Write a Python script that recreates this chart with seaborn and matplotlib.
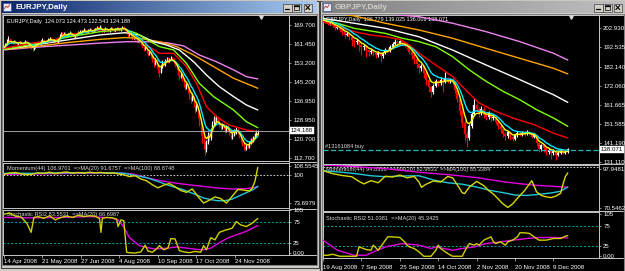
import numpy as np
import pandas as pd
import matplotlib
matplotlib.use("Agg")
import matplotlib.pyplot as plt
import seaborn as sns
from matplotlib.patches import Rectangle
from matplotlib.colors import LinearSegmentedColormap
from matplotlib.transforms import Affine2D

# ======================= DATA =======================
# ---- EURJPY daily (left window) ----
eur_title = "EURJPY,Daily"
eur_header = "EURJPY,Daily  124.073 124.473 122.543 124.188"
eur_first_open = 159.6
eur_close = [160.2,161.6,163.0,163.8,163.2,162.6,162.0,162.8,162.1,161.4,
161.9,162.5,161.8,161.2,162.0,162.7,162.2,161.5,160.6,160.0,
159.2,160.3,161.2,161.9,162.5,162.0,162.8,163.4,162.9,162.2,
162.9,163.6,164.2,163.5,162.8,163.3,162.6,162.0,163.8,165.5,
166.2,165.6,166.4,165.8,165.1,166.0,166.6,165.9,165.3,164.5,
165.2,166.0,166.7,167.2,166.5,167.3,167.8,167.1,166.6,167.5,
168.0,167.4,166.8,167.6,168.2,168.7,168.0,169.0,167.9,167.0,
167.6,168.3,167.7,167.1,167.8,168.4,167.9,167.3,167.9,168.5,
168.1,167.5,168.2,168.8,168.3,167.6,166.4,165.2,165.8,164.6,
163.9,164.5,163.5,162.8,163.2,162.3,161.6,160.4,159.2,160.1,
158.4,157.2,158.0,156.3,154.5,153.0,154.6,152.2,150.3,149.5,
151.8,153.9,152.6,154.4,155.3,154.0,154.8,155.6,154.9,153.8,
152.5,151.0,149.2,147.5,148.4,146.3,144.2,142.8,143.9,141.5,
139.3,137.6,138.8,135.9,133.6,134.8,131.2,128.5,124.6,121.3,
118.9,116.2,119.4,122.8,121.0,124.7,127.3,129.6,128.2,130.1,
128.6,126.9,125.3,127.0,125.8,124.1,126.2,124.6,123.0,121.4,
122.5,124.3,123.4,125.1,124.0,121.8,120.3,118.4,117.2,116.5,
118.0,117.4,119.0,120.6,119.8,121.5,122.9,124.073,124.188]
eur_high = [160.6,161.9,163.5,164.8,164.1,163.5,162.9,163.2,163.1,162.4,
162.3,162.9,162.7,162.1,162.3,163.1,163.0,162.5,161.8,160.9,
160.3,160.7,161.5,162.3,162.9,162.8,163.2,163.9,163.7,163.2,
163.3,164.0,164.7,164.5,163.8,163.7,163.6,162.9,164.1,165.9,
166.8,166.6,166.9,166.8,166.1,166.4,167.1,166.9,166.2,165.6,
165.6,166.4,167.1,167.7,167.5,167.7,168.3,168.1,167.4,167.9,
168.5,168.3,167.7,168.0,168.6,169.2,169.0,169.8,169.3,168.2,
168.0,168.7,168.6,168.0,168.2,168.9,168.8,168.2,168.3,169.0,
168.9,168.4,168.6,169.4,169.1,168.6,167.9,166.7,166.3,166.1,
164.9,165.0,164.8,163.8,163.7,163.5,162.7,161.9,160.7,160.6,
160.4,158.8,158.6,158.3,156.6,154.9,155.3,155.0,152.6,151.0,
152.3,154.5,154.4,155.0,156.0,155.8,155.5,156.4,156.0,155.3,
154.1,152.9,151.4,149.6,149.2,148.8,146.7,144.8,144.7,144.3,
142.0,139.9,139.8,139.3,136.5,135.9,135.3,131.8,129.2,125.4,
122.4,119.8,120.3,123.6,123.5,125.5,128.2,130.6,130.2,131.0,
130.6,129.0,127.4,127.6,127.5,126.2,126.8,126.7,125.0,123.4,
123.1,124.9,124.8,125.8,125.6,124.4,122.3,120.8,118.9,117.7,
118.6,118.7,119.6,121.2,121.0,122.1,123.4,124.6,124.473]
eur_low = [159.3,160.0,161.3,162.7,162.8,162.2,161.6,161.8,161.7,161.0,
161.1,161.6,161.4,160.7,160.9,161.7,161.8,161.1,160.2,159.5,
158.5,158.9,160.0,160.9,161.6,161.6,161.7,162.5,162.5,161.8,
161.9,162.6,163.3,163.1,162.3,162.4,162.2,161.5,161.8,163.5,
165.2,165.1,165.3,165.4,164.6,164.8,165.7,165.5,164.9,163.9,
164.2,164.9,165.7,166.4,166.1,166.2,167.0,166.7,166.1,166.3,
167.2,167.0,166.3,166.5,167.3,167.9,167.6,167.7,167.4,166.4,
166.6,167.3,167.3,166.6,166.8,167.5,167.5,166.8,167.0,167.6,
167.7,167.1,167.2,167.9,167.9,167.1,165.9,164.6,164.8,164.1,
163.3,163.5,163.0,162.2,162.4,161.8,161.0,159.8,158.4,158.8,
157.7,156.4,156.8,155.4,153.6,151.8,152.6,151.0,149.0,147.2,
149.0,151.4,151.9,152.2,154.0,153.5,153.6,154.5,154.3,153.1,
151.8,150.2,148.3,146.5,146.9,145.4,143.1,141.6,142.0,140.4,
138.0,136.2,136.9,134.6,132.0,132.8,129.7,126.4,122.5,119.0,
116.3,113.6,115.0,118.6,119.8,120.4,124.0,126.8,127.4,127.8,
127.9,126.0,124.5,124.8,125.1,123.3,123.7,123.9,122.2,120.6,
120.8,122.1,122.8,123.0,123.4,121.0,119.4,117.5,116.1,115.3,
115.8,116.6,117.0,118.6,119.1,119.4,121.0,122.5,122.543]
eur_bid = 124.188
# slower moving averages (bar index, value)
eur_red_idx = [0,21,32,44,67,85,91,100,109,119,128,135,142,149,158,170,178]
eur_red_val = [159.7,162.1,162.5,165.4,167.55,167.8,164.7,161.1,157.5,157.5,151.8,144.6,134.6,130.3,126.7,124.55,123.8]
eur_green_idx = [0,21,44,67,85,93,100,109,119,128,137,147,161,170,178]
eur_green_val = [159.2,161.5,164.4,166.8,167.8,166.1,163.5,160.4,158.95,153.2,144.6,138.9,133.15,128.1,125.55]
eur_white_idx = [0,21,44,67,85,95,105,114,123,133,142,151,161,170,178]
eur_white_val = [159.2,161.1,163.25,165.4,166.4,165.4,162.5,161.1,158.95,153.9,148.2,143.2,138.9,135.3,133.15]
eur_orange_idx = [0,21,44,67,85,95,109,121,133,147,161,178]
eur_orange_val = [159.2,160.4,162.1,163.5,164.3,164.0,162.5,160.4,156.8,151.8,146.8,142.5]
eur_violet_idx = [0,21,44,67,85,102,114,126,137,149,161,170,178]
eur_violet_val = [159.0,160.1,161.0,161.9,162.5,162.5,162.1,160.7,156.8,153.9,150.4,147.5,146.5]
# Momentum(44) window
eur_mom_label = "Momentum(44) 106.9701  =>MA(20) 91.6757  =>MA(100) 88.8748"
eur_mom_idx = [0,4,8,12,16,20,24,28,32,36,40,44,48,52,56,60,64,68,72,76,80,84,88,92,96,100,
               104,108,112,116,120,124,128,132,136,140,144,148,152,156,160,164,168,172,174,176,178]
eur_mom_val = [100.5,101.8,102.3,101.0,100.2,100.8,102.0,101.5,102.6,101.2,102.2,102.8,101.6,102.3,
               101.7,102.5,102.0,102.4,101.5,102.0,101.0,100.2,98.4,99.3,96.2,94.6,
               90.9,88.0,90.5,92.0,89.0,85.5,83.8,87.0,80.0,73.8,76.5,79.5,78.0,73.8,80.0,86.5,
               86.0,85.0,87.5,94.0,106.97]
eur_mom_ma20_idx = [0,10,20,30,40,50,60,70,80,85,90,100,110,115,120,125,130,135,140,145,150,155,160,165,170,175,178]
eur_mom_ma20_val = [101.5,101.6,101.5,101.8,102.0,102.1,102.2,102.1,101.8,101.5,100.0,97.5,93.0,90.5,
                    88.5,86.5,84.0,81.5,78.5,77.0,76.0,76.0,77.5,80.5,83.5,86.5,89.5]
eur_mom_ma100_idx = [0,20,40,60,80,90,100,110,120,130,140,150,160,170,178]
eur_mom_ma100_val = [100.6,100.9,101.3,101.6,101.7,101.0,97.5,94.6,92.5,90.8,89.3,87.8,86.9,87.3,88.87]
# Stochastic RSI window
eur_st_label = "Stochastic RSI2 83.5531  =>MA(20) 66.6987"
eur_st_idx = [0,4,8,12,16,19,21,24,28,32,36,40,44,48,52,56,60,64,67,68,69,72,76,79,80,82,84,85,86,88,
              92,96,99,101,104,107,109,112,115,117,120,123,126,130,134,138,140,142,145,148,
              151,155,160,163,166,170,174,178]
eur_st_val = [94,96,89,87,72,50,86,88,84,90,80,86,89,86,91,88,90,89,83,50,84,86,85,82,64,80,78,40,2,1,
              0,3,19,5,2,10,18,8,12,35,34,6,3,1,4,2,18,8,37,32,50,55,60,76,68,64,72,83.55]
eur_st_ma_idx = [0,20,40,60,75,80,84,88,95,105,115,121,128,135,140,145,152,158,163,168,172,176,178]
eur_st_ma_val = [86,85,86,88,85,80,63,37,18,10,12,15,12,9,8,12,27,38,44,50,56,63,66.7]
eur_price_ticks = [169.7,161.45,153.2,145.2,136.95,128.95,120.7,112.7]
eur_mom_ticks = [108.5545,100,73.6979]
eur_mom_ticklabels = ["108.5545","100","73.6979"]
eur_date_idx = [0,27,54,81,108,135,162]
eur_date_labels = ["14 Apr 2008","21 May 2008","27 Jun 2008","4 Aug 2008","10 Sep 2008","17 Oct 2008","24 Nov 2008"]

# ---- GBPJPY daily (right window) ----
gbp_title = "GBPJPY,Daily"
gbp_header = "GBPJPY,Daily  136.779 139.025 136.006 138.071"
gbp_first_open = 207.6
gbp_close = [207.0,206.2,205.0,205.6,204.1,202.8,203.3,201.6,200.4,199.2,
199.8,198.0,196.5,195.2,196.0,193.8,192.4,193.1,191.2,189.8,
190.6,189.2,188.5,189.6,187.9,189.5,191.3,190.6,192.8,194.2,
195.3,194.6,195.9,194.8,193.6,192.5,190.1,188.3,186.0,183.7,
181.2,182.4,178.6,175.3,171.2,168.5,172.0,174.6,173.2,175.1,
174.0,175.6,174.3,175.2,173.8,169.5,164.8,158.6,152.3,146.0,
144.2,150.5,156.8,161.5,159.4,157.2,159.8,156.4,155.1,157.3,
154.6,155.5,152.8,150.4,148.7,146.3,145.0,147.2,144.6,143.8,
145.5,146.8,145.9,147.0,146.2,147.4,146.6,144.8,145.9,141.2,
138.5,140.2,138.9,136.4,137.8,135.9,137.2,135.0,136.3,137.6,
136.1,136.779,138.071]
gbp_high = [208.4,207.5,206.6,206.3,206.0,204.6,204.0,203.7,202.1,200.9,
200.6,200.3,198.6,197.0,196.9,196.5,194.4,194.0,193.7,191.8,
191.5,191.1,190.0,190.4,190.1,190.2,192.0,192.2,193.6,195.1,
196.7,196.2,196.6,196.4,195.3,194.1,193.0,190.8,188.9,186.6,
184.3,183.5,183.0,179.2,176.0,172.0,173.0,175.8,175.3,176.4,
175.9,179.3,176.5,176.2,175.9,174.4,170.2,165.6,159.4,153.5,
147.8,151.7,158.0,165.4,163.0,160.6,161.2,160.5,157.6,158.6,
158.0,156.8,156.1,153.5,151.2,149.5,147.2,148.1,147.8,145.5,
146.3,147.6,147.5,148.0,147.7,148.3,148.0,147.1,146.7,146.3,
141.9,141.0,140.8,139.5,138.6,138.4,138.1,137.8,137.2,138.4,
138.2,137.6,139.025]
gbp_low = [206.3,205.4,204.2,204.5,203.2,201.9,202.1,200.5,199.3,197.5,
198.4,196.6,193.0,192.8,194.1,190.5,188.6,191.0,187.4,187.8,
188.9,187.6,186.8,187.5,184.6,187.0,188.9,189.8,190.2,192.3,
193.6,193.9,194.0,193.9,192.8,191.6,189.0,186.5,183.4,181.2,
178.6,179.8,176.3,172.4,168.9,166.0,167.8,171.2,172.1,172.6,
168.6,173.2,173.4,173.5,172.6,168.3,163.2,156.4,149.8,142.6,
139.3,143.0,149.6,155.9,158.1,155.3,156.4,155.0,153.6,154.4,
153.2,153.5,151.4,148.9,146.8,144.9,143.3,144.2,143.0,142.6,
143.1,144.9,145.0,145.3,145.4,145.6,145.8,143.9,144.0,140.1,
136.4,137.2,136.8,134.8,135.6,133.0,135.1,132.3,134.3,135.7,
135.4,135.5,136.006]
gbp_bid = 138.071
gbp_order_price = 137.70
gbp_order_label = "#13161084 buy"
gbp_red_idx = [0,6,13,20,26,32,36,40,47,54,60,65,72,79,88,96,102]
gbp_red_val = [206.1,203.5,200.8,199.0,198.1,196.7,193.7,189.3,183.0,176.9,169.0,162.8,158.3,154.8,151.2,146.7,144.1]
gbp_green_idx = [0,6,13,26,33,40,47,54,61,68,75,82,89,96,102]
gbp_green_val = [207.0,205.3,202.6,199.9,197.3,195.5,192.8,187.5,180.4,174.3,169.0,164.5,159.2,154.8,150.3]
gbp_white_idx = [0,13,26,40,54,68,82,96,102]
gbp_white_val = [207.9,205.3,202.6,198.1,191.0,183.0,175.2,167.2,163.1]
gbp_orange_idx = [0,13,26,40,54,68,82,96,102]
gbp_orange_val = [212.0,209.2,205.3,201.7,197.3,191.9,186.6,181.3,178.3]
gbp_violet_idx = [0,16,32,40,54,68,82,96,102]
gbp_violet_val = [214.0,211.8,209.7,208.8,205.3,200.8,195.5,189.3,185.7]
gbp_mom_label = "Momentum(44) 94.8316  =>MA(20) 82.9833  =>MA(100) 85.3384"
gbp_mom_idx = [0,4,8,12,15,17,20,23,26,29,32,35,38,40,41,43,46,49,52,54,
               56,58,59,61,64,67,69,71,73,75,77,79,81,84,87,89,91,93,95,97,99,100,101,102]
gbp_mom_val = [97.2,95.0,93.7,92.8,89.5,87.7,90.0,88.5,93.2,92.6,94.0,92.0,93.0,89.0,85.3,87.5,89.8,89.0,93.0,92.0,
               87.0,81.5,80.8,85.5,89.5,86.5,83.0,80.5,77.0,73.5,71.0,73.5,77.5,83.0,90.0,82.0,79.5,78.5,78.0,79.0,
               81.0,87.5,93.0,95.5]
gbp_mom_ma20_idx = [0,8,14,20,26,32,40,46,52,58,64,70,75,80,85,90,95,99,102]
gbp_mom_ma20_val = [97.0,96.0,94.9,93.5,92.8,93.3,93.5,90.5,88.5,87.5,85.5,83.0,81.5,79.8,79.5,80.3,81.3,82.5,85.5]
gbp_mom_ma100_idx = [0,13,27,40,54,65,76,88,102]
gbp_mom_ma100_val = [101.2,100.0,98.4,96.0,94.0,92.0,89.0,86.8,85.34]
gbp_st_label = "Stochastic RSI2 51.0381  =>MA(20) 45.3425"
gbp_st_idx = [0,2,4,7,14,15,18,20,21,23,24,26,27,29,32,34,35,36,38,40,42,45,47,48,49,52,54,58,
              60,61,63,64,65,67,70,71,72,74,76,77,79,81,82,84,86,88,90,93,96,99,101,102]
gbp_st_val = [2.8,2.8,5.3,0.4,0.4,23.3,16.8,15.1,27.5,15.1,23.3,39.8,47.9,47.9,46.3,35.7,27.5,23.3,19.3,11.0,
              0.4,0.4,15.1,27.5,19.3,6.9,0.4,0.4,23.3,31.5,27.5,31.5,27.5,39.8,47.9,35.7,31.5,35.7,27.5,35.7,
              39.8,47.9,57.8,57.8,56.2,47.9,39.8,39.8,43.9,43.9,49.6,51.04]
gbp_st_ma_idx = [0,6,13,18,20,26,33,40,45,47,54,58,63,68,74,79,85,90,96,102]
gbp_st_ma_val = [39.8,15.1,2.8,2.8,8.5,23.3,31.5,27.5,19.3,23.3,15.1,19.3,23.3,31.5,35.7,39.8,43.9,46.3,46.3,45.34]
gbp_price_ticks = [202.93,192.535,182.14,172.06,161.665,151.585,141.19,131.11]
gbp_mom_ticks = [97.9481,70.5462]
gbp_mom_ticklabels = ["97.9481","70.5462"]
gbp_date_idx = [0,16,32,48,64,80,96]
gbp_date_labels = ["19 Aug 2008","7 Sep 2008","25 Sep 2008","14 Oct 2008","2 Nov 2008","20 Nov 2008","9 Dec 2008"]

st_ticks = [105,75,25,0]
st_ticklabels = ["105","75","25","0.00"]

# ======================= STYLE / LAYOUT =======================
W, H = 625, 271
sns.set_theme(style="dark")
plt.rcParams['font.family'] = ['Liberation Sans', 'DejaVu Sans']

fig = plt.figure(figsize=(W / 100, H / 100), dpi=100)
fig.patch.set_facecolor('#d4d0c8')
PIX = Affine2D().scale(1 / W, -1 / H).translate(0, 1) + fig.transFigure
GRAYLINE = '#c8c8c8'


def rect(x0, y0, x1, y1):
    return [x0 / W, 1 - y1 / H, (x1 - x0) / W, (y1 - y0) / H]


# ---- window chrome ----
bg = fig.add_axes([0, 0, 1, 1], zorder=0)
bg.axis('off')
act = LinearSegmentedColormap.from_list('act', ['#0a246a', '#a6caf0'])
inact = LinearSegmentedColormap.from_list('inact', ['#808080', '#c0c0c0'])
grad = np.linspace(0, 1, 256)[None, :]
bg.add_patch(Rectangle((0.5, 0.5), 318, 267, fc='#d4d0c8', ec='#404040', lw=0.8, zorder=1))
bg.add_patch(Rectangle((319.8, 0.5), 305, 275, fc='#d4d0c8', ec='#404040', lw=0.8, zorder=1))
bg.imshow(grad, cmap=act, extent=(2, 317, 13, 1.5), aspect='auto', zorder=2)
bg.imshow(grad, cmap=inact, extent=(321.5, 624, 13, 1.5), aspect='auto', zorder=2)
bg.add_patch(Rectangle((2, 14), 315, 251, fc='black', ec='#808080', lw=0.8, zorder=2))
bg.add_patch(Rectangle((321.5, 14), 302.5, 262, fc='black', ec='#808080', lw=0.8, zorder=2))


def icon(x):
    bg.add_patch(Rectangle((x, 3), 8, 7.5, fc='#e8eef8', ec='#3050a0', lw=0.5, zorder=3))
    bg.plot([x + 1.2, x + 3.2, x + 4.8, x + 6.8], [8.8, 6.0, 7.6, 4.4], color='#c03030', lw=0.6, zorder=4)


def buttons(xs):
    for k, x in enumerate(xs):
        bg.add_patch(Rectangle((x, 3.5), 8.5, 8, fc='#d4d0c8', ec='#404040', lw=0.5, zorder=3))
        if k == 0:
            bg.plot([x + 2.2, x + 5.6], [9.4, 9.4], color='black', lw=0.9, zorder=4)
        elif k == 1:
            bg.add_patch(Rectangle((x + 2, 5.3), 4.6, 4.3, fc='none', ec='black', lw=0.5, zorder=4))
            bg.plot([x + 2, x + 6.6], [5.6, 5.6], color='black', lw=0.9, zorder=4)
        else:
            bg.plot([x + 2.4, x + 6.2], [5.5, 9.6], color='black', lw=0.8, zorder=4)
            bg.plot([x + 2.4, x + 6.2], [9.6, 5.5], color='black', lw=0.8, zorder=4)


icon(3)
icon(322.5)
buttons([283, 292, 303.5])
buttons([594, 603, 613.5])
bg.text(15.5, 7.4, eur_title, color='white', fontsize=5.8, fontweight='bold', va='center', zorder=5)
bg.text(334.5, 7.4, gbp_title, color='#d4d0c8', fontsize=5.8, fontweight='bold', va='center', zorder=5)
# frame lines across the price scales
for yy in (15, 161.5, 208.5, 254.5):
    bg.plot([289, 315.5], [yy, yy], color=GRAYLINE, lw=0.7, zorder=5)
for yy in (15, 164, 211.3, 258.3):
    bg.plot([599, 622.5], [yy, yy], color=GRAYLINE, lw=0.7, zorder=5)
bg.set_xlim(0, W)
bg.set_ylim(H, 0)


def make_panel(box, xlim, ylim, yticks, ylabels):
    ax = fig.add_axes(rect(*box), zorder=2)
    ax.set_facecolor('black')
    ax.set_xlim(*xlim)
    ax.set_ylim(*ylim)
    for s in ax.spines.values():
        s.set_visible(True)
        s.set_color(GRAYLINE)
        s.set_linewidth(0.7)
    ax.grid(False)
    ax.yaxis.tick_right()
    ax.set_yticks(yticks)
    ax.set_yticklabels(ylabels)
    ax.tick_params(axis='y', which='both', right=True, left=False, labelleft=False, labelright=True,
                   length=1.5, width=0.5, color=GRAYLINE, labelcolor='white', labelsize=4.4, pad=1.5)
    ax.tick_params(axis='x', bottom=False, labelbottom=False)
    return ax


def line(ax, x, y, color, lw=1.0):
    sns.lineplot(x=np.asarray(x, float), y=np.asarray(y, float), ax=ax, color=color,
                 linewidth=lw, legend=False, errorbar=None, zorder=3)
    ax.set_xlabel('')
    ax.set_ylabel('')


def candles(ax, first_open, closes, highs, lows, wick_lw, body_lw):
    c = np.asarray(closes, float)
    o = np.r_[first_open, c[:-1]]
    x = np.arange(len(c))
    col = np.where(c >= o, 'white', '#ff0000')
    ax.vlines(x, lows, highs, colors=col, linewidth=wick_lw, zorder=2)
    ax.vlines(x, np.minimum(o, c), np.maximum(o, c), colors=col, linewidth=body_lw, zorder=2)


def ptext(ax, x, y, s, color='#d8d8d8', size=4.1):
    ax.text(x, y, s, transform=PIX, clip_on=False, color=color, fontsize=size, va='center', ha='left', zorder=1)


def price_box(ax, y, s):
    ax.text(1.007, y, s, transform=ax.get_yaxis_transform(), fontsize=4.4, color='black', va='center',
            ha='left', clip_on=False, zorder=6,
            bbox=dict(boxstyle='square,pad=0.18', fc='white', ec='white', lw=0.3))


def dates(ax, idx, labels, pad):
    ax.set_xticks(idx)
    ax.set_xticklabels(labels)
    ax.tick_params(axis='x', bottom=True, labelbottom=True, length=2, width=0.5, color=GRAYLINE,
                   labelcolor='white', labelsize=4.4, pad=pad)
    for t in ax.get_xticklabels():
        t.set_ha('left')


MA_COLORS = dict(yellow='#ffff00', cyan='#00e8ff', red='#ff0000', green='#7fff00',
                 white='#ffffff', orange='#ffa500', violet='#ee82ee')


def draw_window(d, boxes, xlim, ylims, order=None):
    ax_m = make_panel(boxes[0], xlim, ylims[0], d['pticks'], [f"{v:.3f}" for v in d['pticks']])
    ax_o = make_panel(boxes[1], xlim, ylims[1], d['mticks'], d['mlabels'])
    ax_s = make_panel(boxes[2], xlim, ylims[2], st_ticks, st_ticklabels)
    # main price chart
    ptext(ax_m, d['hx'], d['hy'][0], d['header'], color='white', size=4.0)
    candles(ax_m, d['open0'], d['close'], d['high'], d['low'], d['wick'], d['body'])
    closes = pd.Series(d['close'], dtype=float)
    xs = np.arange(len(closes))
    for name in ('violet', 'orange', 'white', 'green', 'red'):
        line(ax_m, d[name][0], d[name][1], MA_COLORS[name])
    line(ax_m, xs, closes.ewm(span=10, adjust=False).mean(), MA_COLORS['cyan'])
    line(ax_m, xs, closes.ewm(span=5, adjust=False).mean(), MA_COLORS['yellow'])
    if order is not None:
        ax_m.axhline(order[0], color='#20b8b8', lw=0.9, ls=(0, (4, 2)), zorder=4)
        ptext(ax_m, d['hx'] - 1, order[1], order[2], color='#d8d8d8', size=4.1)
    else:
        ax_m.axhline(d['bid'], color='#b8b8b8', lw=0.6, zorder=4)
    price_box(ax_m, d['bid'], f"{d['bid']:.3f}")
    # momentum
    ptext(ax_o, d['hx'], d['hy'][1], d['mom_label'])
    if ylims[1][0] < 100 < ylims[1][1]:
        ax_o.axhline(100, color='#e8e8e8', lw=0.6, ls=(0, (2, 2)), zorder=2)
    line(ax_o, *d['mom_ma100'], '#e000e0')
    line(ax_o, *d['mom_ma20'], '#20c8d8')
    line(ax_o, *d['mom'], '#d8d800')
    # stochastic RSI
    ptext(ax_s, d['hx'], d['hy'][2], d['st_label'])
    for lv in (75, 25):
        ax_s.axhline(lv, color='#00a8a8', lw=0.7, ls=(0, (2, 2)), zorder=2)
    line(ax_s, *d['st_ma'], '#e000e0')
    line(ax_s, *d['st'], '#d0d000')
    dates(ax_s, d['date_idx'], d['date_labels'], d['dpad'])
    return ax_m


eur = dict(pticks=eur_price_ticks, mticks=eur_mom_ticks, mlabels=eur_mom_ticklabels,
           header=eur_header, hx=7, hy=(21, 168.3, 214.5), open0=eur_first_open,
           close=eur_close, high=eur_high, low=eur_low, wick=0.75, body=1.0, bid=eur_bid,
           violet=(eur_violet_idx, eur_violet_val), orange=(eur_orange_idx, eur_orange_val),
           white=(eur_white_idx, eur_white_val), green=(eur_green_idx, eur_green_val),
           red=(eur_red_idx, eur_red_val),
           mom_label=eur_mom_label, mom=(eur_mom_idx, eur_mom_val),
           mom_ma20=(eur_mom_ma20_idx, eur_mom_ma20_val), mom_ma100=(eur_mom_ma100_idx, eur_mom_ma100_val),
           st_label=eur_st_label, st=(eur_st_idx, eur_st_val), st_ma=(eur_st_ma_idx, eur_st_ma_val),
           date_idx=eur_date_idx, date_labels=eur_date_labels, dpad=1.2)
gbp = dict(pticks=gbp_price_ticks, mticks=gbp_mom_ticks, mlabels=gbp_mom_ticklabels,
           header=gbp_header, hx=326, hy=(20, 170, 218.5), open0=gbp_first_open,
           close=gbp_close, high=gbp_high, low=gbp_low, wick=0.8, body=1.6, bid=gbp_bid,
           violet=(gbp_violet_idx, gbp_violet_val), orange=(gbp_orange_idx, gbp_orange_val),
           white=(gbp_white_idx, gbp_white_val), green=(gbp_green_idx, gbp_green_val),
           red=(gbp_red_idx, gbp_red_val),
           mom_label=gbp_mom_label, mom=(gbp_mom_idx, gbp_mom_val),
           mom_ma20=(gbp_mom_ma20_idx, gbp_mom_ma20_val), mom_ma100=(gbp_mom_ma100_idx, gbp_mom_ma100_val),
           st_label=gbp_st_label, st=(gbp_st_idx, gbp_st_val), st_ma=(gbp_st_ma_idx, gbp_st_ma_val),
           date_idx=gbp_date_idx, date_labels=gbp_date_labels, dpad=3.0)

draw_window(eur, [(3, 15, 289, 161), (3, 162.5, 289, 207.8), (3, 209.5, 289, 254.5)],
            (-0.7, 199.9), [(111.2, 174.0), (69.4, 111.6), (-3.4, 105.1)])
draw_window(gbp, [(322.5, 15, 599, 163.5), (322.5, 164.5, 599, 210.8), (322.5, 212, 599, 258.3)],
            (-0.21, 115.0), [(130.5, 209.7), (68.6, 101.5), (-4.6, 108.7)],
            order=(gbp_order_price, 146.3, gbp_order_label))

# chart-shift markers
fg = fig.add_axes([0, 0, 1, 1], zorder=8)
fg.axis('off')
fg.set_xlim(0, W)
fg.set_ylim(H, 0)
fg.plot([261], [16.8], marker='v', ms=2.6, color='#d8d8d8', lw=0)
fg.plot([571], [16.5], marker='v', ms=2.6, color='#d8d8d8', lw=0)

fig.savefig('out.png', dpi=100, facecolor=fig.get_facecolor())
